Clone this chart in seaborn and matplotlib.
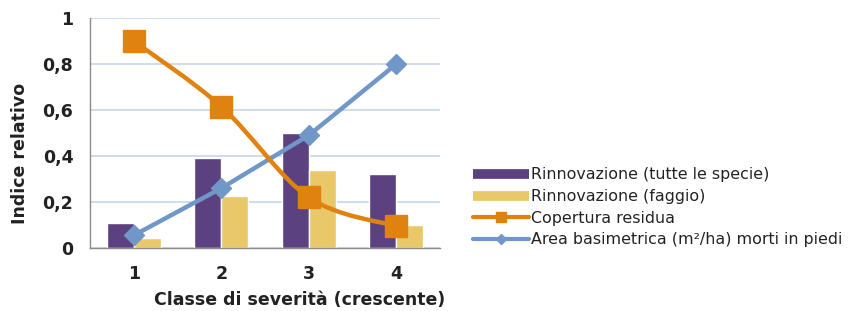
import numpy as np
import pandas as pd
import matplotlib
matplotlib.use('Agg')
import matplotlib.pyplot as plt
from matplotlib.path import Path
from matplotlib.patches import PathPatch
from matplotlib.lines import Line2D
import seaborn as sns

# data
classi = ['1', '2', '3', '4']
rinn_tutte = [0.11, 0.39, 0.50, 0.32]
rinn_faggio = [0.045, 0.225, 0.34, 0.10]
copertura = [0.90, 0.615, 0.22, 0.095]
area_basim = [0.055, 0.26, 0.49, 0.80]
y_ticks = [0, 0.2, 0.4, 0.6, 0.8, 1]
y_labels = ['0', '0,2', '0,4', '0,6', '0,8', '1']
serie_barre = ['Rinnovazione (tutte le specie)', 'Rinnovazione (faggio)']
serie_linee = ['Copertura residua', 'Area basimetrica (m²/ha) morti in piedi']

C_VIOLA = '#5c4180'
C_GIALLO = '#e9c86a'
C_ARANCIO = '#df820f'
C_BLU = '#7196c8'
C_TESTO = '#222222'

sns.set_style('white')
plt.rcParams['font.family'] = ['DejaVu Sans']


def smooth_path(xs, ys):
    """Catmull-Rom style bezier path through the points (like Excel smoothed lines)."""
    pts = np.column_stack([xs, ys]).astype(float)
    verts = [pts[0]]
    codes = [Path.MOVETO]
    n = len(pts)
    for i in range(n - 1):
        p0 = pts[i - 1] if i > 0 else pts[i]
        p1, p2 = pts[i], pts[i + 1]
        p3 = pts[i + 2] if i + 2 < n else pts[i + 1]
        c1 = p1 + (p2 - p0) / 6.0
        c2 = p2 - (p3 - p1) / 6.0
        verts += [c1, c2, p2]
        codes += [Path.CURVE4] * 3
    return Path(verts, codes)


df = pd.DataFrame({
    'classe': classi * 2,
    'valore': rinn_tutte + rinn_faggio,
    'serie': [serie_barre[0]] * 4 + [serie_barre[1]] * 4,
})

fig = plt.figure(figsize=(8.51, 3.11), dpi=100)
ax = fig.add_axes([0.1058, 0.2026, 0.4113, 0.7394])

sns.barplot(data=df, x='classe', y='valore', hue='serie', order=classi,
            hue_order=serie_barre, palette={serie_barre[0]: C_VIOLA, serie_barre[1]: C_GIALLO},
            width=0.62, saturation=1, legend=False, ax=ax, zorder=2)

xpos = np.arange(len(classi))
ax.plot(xpos, area_basim, color=C_BLU, lw=3.2, marker='D', markersize=10,
        zorder=4, solid_joinstyle='round')
ax.add_patch(PathPatch(smooth_path(xpos, copertura), facecolor='none',
                       edgecolor=C_ARANCIO, lw=3.2, zorder=5))
ax.plot(xpos, copertura, ls='none', color=C_ARANCIO, marker='s', markersize=16, zorder=6)

ax.set_xlim(-0.5, 3.5)
ax.set_ylim(0, 1)
ax.set_yticks(y_ticks)
ax.set_yticklabels(y_labels)
ax.yaxis.grid(True, color='#c6d5ea', lw=1.2, zorder=0)
ax.set_axisbelow(True)
for s in ['top', 'right']:
    ax.spines[s].set_visible(False)
for s in ['left', 'bottom']:
    ax.spines[s].set_color('#8a8a8a')
    ax.spines[s].set_linewidth(1)
ax.tick_params(axis='both', length=0, labelsize=12.5, pad=12)
for lab in ax.get_xticklabels() + ax.get_yticklabels():
    lab.set_fontweight('bold')
    lab.set_color(C_TESTO)
ax.set_xticks([0.5, 1.5, 2.5], minor=True)
ax.tick_params(axis='x', which='minor', length=4, color='#8a8a8a')

ax.set_ylabel('Indice relativo', fontsize=12.5, fontweight='bold', color=C_TESTO)
ax.yaxis.set_label_coords(-0.175, 0.41)
ax.set_xlabel('')
fig.text(0.523, 0.035, 'Classe di severità (crescente)', ha='right', va='center',
         fontsize=12.5, fontweight='bold', color=C_TESTO)

handles = [
    Line2D([], [], color=C_VIOLA, lw=7, solid_capstyle='butt'),
    Line2D([], [], color=C_GIALLO, lw=7, solid_capstyle='butt'),
    Line2D([], [], color=C_ARANCIO, lw=3, marker='s', markersize=7),
    Line2D([], [], color=C_BLU, lw=3, marker='D', markersize=5),
]
fig.legend(handles, serie_barre + serie_linee, loc='center left',
           bbox_to_anchor=(0.556, 0.333), frameon=False, fontsize=11.4,
           handlelength=3.5, handletextpad=0.15, labelspacing=0.42,
           borderpad=0, borderaxespad=0, labelcolor=C_TESTO)

fig.savefig('out.png', dpi=100)
